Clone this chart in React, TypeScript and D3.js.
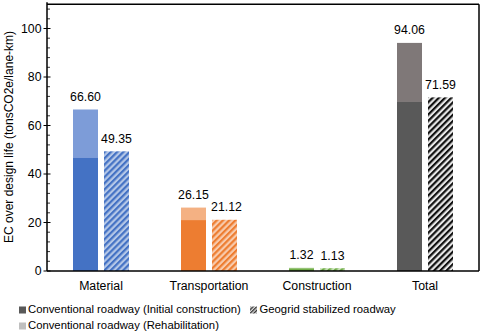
import React from "react";
import * as d3 from "d3";

const categories = ["Material", "Transportation", "Construction", "Total"];
const initialValues = [46.6, 21.0, 1.1, 69.7];
const conventionalTotals = [66.6, 26.15, 1.32, 94.06];
const geogridValues = [49.35, 21.12, 1.13, 71.59];
const conventionalLabels = ["66.60", "26.15", "1.32", "94.06"];
const geogridLabels = ["49.35", "21.12", "1.13", "71.59"];
const yMajorTicks = [0, 20, 40, 60, 80, 100];

const darkColors = ["#4472C4", "#ED7D31", "#70AD47", "#595959"];
const lightColors = ["#7D9CD8", "#F4B183", "#A9D18E", "#7F7878"];
const hatchBg = ["#B4C7E7", "#F8CBAD", "#C5E0B4", "#E8E8E8"];
const hatchFg = ["#4472C4", "#ED7D31", "#70AD47", "#111111"];

const W = 480;
const H = 333;
const left = 47;
const right = 479;
const top = 4.25;
const bottom = 271;

export default function App() {
  const y = d3.scaleLinear().domain([0, 110]).range([bottom, top]);
  const x = d3.scaleBand().domain(categories).range([left, right]).padding(0);
  const barW = 25;
  const gap = 6;
  const minorTicks = d3.range(0, 110, 4).filter((v) => v % 20 !== 0);
  const font = "'Liberation Sans', Arial, sans-serif";
  const P = 4.4;

  return (
    <svg
      width={W}
      height={H}
      style={{ position: "absolute", left: 0, top: 0, background: "#fff" }}
      fontFamily={font}
    >
      <defs>
        {categories.map((c, i) => (
          <pattern
            key={c}
            id={`hatch${i}`}
            patternUnits="userSpaceOnUse"
            width={P}
            height={P}
            patternTransform="rotate(45)"
          >
            <rect width={P} height={P} fill={hatchBg[i]} />
            <rect width={P / 2} height={P} fill={hatchFg[i]} />
          </pattern>
        ))}
        <pattern
          id="hatchLegend"
          patternUnits="userSpaceOnUse"
          width={2.6}
          height={2.6}
          patternTransform="rotate(45)"
        >
          <rect width={2.6} height={2.6} fill="#ddd" />
          <rect width={1.3} height={2.6} fill="#333" />
        </pattern>
      </defs>

      {/* bars */}
      {categories.map((c, i) => {
        const cx = (x(c) as number) + x.bandwidth() / 2;
        const x1 = cx - gap / 2 - barW;
        const x2 = cx + gap / 2;
        return (
          <g key={c}>
            <rect
              x={x1}
              y={y(conventionalTotals[i])}
              width={barW}
              height={y(initialValues[i]) - y(conventionalTotals[i])}
              fill={lightColors[i]}
            />
            <rect
              x={x1}
              y={y(initialValues[i])}
              width={barW}
              height={bottom - y(initialValues[i])}
              fill={darkColors[i]}
            />
            <rect
              x={x2}
              y={y(geogridValues[i])}
              width={barW}
              height={bottom - y(geogridValues[i])}
              fill={`url(#hatch${i})`}
            />
            <text
              x={x1 + barW / 2}
              y={y(conventionalTotals[i]) - 8.5}
              textAnchor="middle"
              fontSize={12.3}
              fill="#000"
            >
              {conventionalLabels[i]}
            </text>
            <text
              x={x2 + barW / 2 + (i === 1 ? 2 : 0)}
              y={y(geogridValues[i]) - 8.5}
              textAnchor="middle"
              fontSize={12.3}
              fill="#000"
            >
              {geogridLabels[i]}
            </text>
            <text x={cx} y={289.5} textAnchor="middle" fontSize={12.3} fill="#000">
              {c}
            </text>
          </g>
        );
      })}

      {/* frame */}
      <line x1={left} x2={right} y1={top} y2={top} stroke="#000" strokeWidth={1.5} />
      <line x1={right} x2={right} y1={top} y2={bottom} stroke="#000" strokeWidth={1.5} />
      <line x1={left} x2={right} y1={bottom} y2={bottom} stroke="#000" strokeWidth={1.5} />
      <line x1={left} x2={left} y1={top - 2} y2={bottom} stroke="#000" strokeWidth={1.5} />

      {/* y ticks */}
      {yMajorTicks.map((t) => (
        <g key={t}>
          <line x1={left - 3.5} x2={left + 3.5} y1={y(t)} y2={y(t)} stroke="#000" strokeWidth={1} />
          <text x={41.5} y={y(t) + 4.3} textAnchor="end" fontSize={12.3} fill="#000">
            {t}
          </text>
        </g>
      ))}
      {minorTicks.map((t) => (
        <line key={t} x1={left} x2={left + 3} y1={y(t)} y2={y(t)} stroke="#000" strokeWidth={0.8} />
      ))}

      <text
        transform={`translate(13, 137) rotate(-90)`}
        textAnchor="middle"
        fontSize={12}
        fill="#000"
      >
        EC over design life (tonsCO2e/lane-km)
      </text>

      {/* legend */}
      <rect x={19} y={306.5} width={7} height={7} fill="#595959" />
      <text x={28} y={313} fontSize={11.3} fill="#000">
        Conventional roadway (Initial construction)
      </text>
      <rect x={250} y={306.5} width={7} height={7} fill="url(#hatchLegend)" />
      <text x={259.5} y={313} fontSize={11.3} fill="#000">
        Geogrid stabilized roadway
      </text>
      <rect x={19} y={322.5} width={7} height={7} fill="#BFBFBF" />
      <text x={28} y={329} fontSize={11.3} fill="#000">
        Conventional roadway (Rehabilitation)
      </text>
    </svg>
  );
}
